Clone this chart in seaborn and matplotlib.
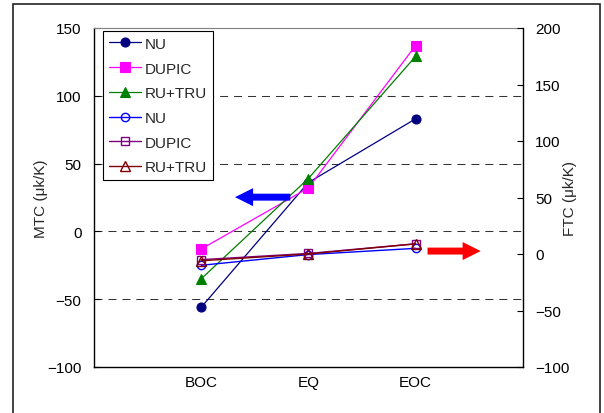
import numpy as np
import matplotlib
matplotlib.use("Agg")
import matplotlib.pyplot as plt
from matplotlib.patches import Rectangle
import seaborn as sns

sns.set_theme(style="white")
plt.rcParams['font.family'] = ['Liberation Sans', 'DejaVu Sans']

# data
stages = ["BOC", "EQ", "EOC"]
mtc_nu = [-56, 36, 83]
mtc_dupic = [-13, 32, 137]
mtc_rutru = [-35, 39, 129]
ftc_nu = [-10, -0.5, 5]
ftc_dupic = [-5, 0.5, 9]
ftc_rutru = [-6, 0, 9]

xpos = np.arange(1, len(stages) + 1)
fs = 11

fig = plt.figure(figsize=(6.04, 4.14), dpi=100)
ax = fig.add_axes([94 / 604, 1 - 368 / 414, 428.7 / 604, 339 / 414])
ax2 = ax.twinx()

# dashed reference lines on the MTC axis
for yv in [100, 50, 0, -50]:
    ax.axhline(yv, color='#333333', lw=0.75, ls=(0, (7.7, 5.7)), zorder=0)

left_series = [
    (mtc_nu, 'NU', '#000080', 'o', 6.5),
    (mtc_dupic, 'DUPIC', '#FF00FF', 's', 6.5),
    (mtc_rutru, 'RU+TRU', '#008000', '^', 7.5),
]
right_series = [
    (ftc_nu, 'NU', '#0000FF', 'o', 6),
    (ftc_dupic, 'DUPIC', '#800080', 's', 6),
    (ftc_rutru, 'RU+TRU', '#800000', '^', 6.5),
]

for vals, name, col, mk, ms in left_series:
    sns.lineplot(x=xpos, y=vals, ax=ax, color=col, marker=mk, markersize=ms,
                 markeredgecolor=col, markeredgewidth=0.8, lw=0.9, label=name)
for vals, name, col, mk, ms in right_series:
    sns.lineplot(x=xpos, y=vals, ax=ax2, color=col, marker=mk, markersize=ms,
                 markerfacecolor='none', markeredgecolor=col,
                 markeredgewidth=1.0, lw=1.0, label=name)

h1, l1 = ax.get_legend_handles_labels()
h2, l2 = ax2.get_legend_handles_labels()
if ax.get_legend():
    ax.get_legend().remove()
if ax2.get_legend():
    ax2.get_legend().remove()
leg = ax2.legend(h1 + h2, l1 + l2, loc='upper left', bbox_to_anchor=(0.021, 0.992),
                 fontsize=fs, frameon=True, fancybox=False, edgecolor='black',
                 framealpha=1, handlelength=2.1, handletextpad=0.2,
                 labelspacing=0.7, borderpad=0.4, borderaxespad=0)
leg.get_frame().set_linewidth(0.8)

ax.set_xlim(0, len(stages) + 1)
ax.set_xticks(xpos)
ax.set_xticklabels(stages)
ax.set_ylim(-100, 150)
ax.set_yticks(np.arange(-100, 151, 50))
ax2.set_ylim(-100, 200)
ax2.set_yticks(np.arange(-100, 201, 50))

ax.tick_params(axis='both', direction='in', length=4.5, width=0.8,
               labelsize=fs, colors='black', pad=9)
ax.tick_params(axis='x', pad=6)
ax2.tick_params(axis='y', direction='in', length=4.5, width=0.8,
                labelsize=fs, colors='black', pad=9)

for s in ['left', 'bottom']:
    ax.spines[s].set_color('black')
    ax.spines[s].set_linewidth(1.0)
ax.spines['right'].set_visible(False)
ax.spines['top'].set_color('#808080')
ax.spines['top'].set_linewidth(0.8)
for s in ['left', 'bottom', 'top']:
    ax2.spines[s].set_visible(False)
ax2.spines['right'].set_color('black')
ax2.spines['right'].set_linewidth(1.0)

ax.set_ylabel('MTC (μk/K)', fontsize=fs)
ax.yaxis.set_label_coords(-0.107, 0.5)
ax2.set_ylabel('FTC (μk/K)', fontsize=fs)
ax2.yaxis.set_label_coords(1.093, 0.5)
ax.set_xlabel('')

# direction arrows
arrow_style = 'simple,head_width=13,head_length=13,tail_width=5'
ax2.annotate('', xy=(0.329, 0.501), xytext=(0.458, 0.501),
             xycoords='axes fraction', textcoords='axes fraction',
             arrowprops=dict(arrowstyle=arrow_style, mutation_scale=1,
                             color='#0000FF', lw=0, shrinkA=0, shrinkB=0))
ax2.annotate('', xy=(0.902, 0.342), xytext=(0.778, 0.342),
             xycoords='axes fraction', textcoords='axes fraction',
             arrowprops=dict(arrowstyle=arrow_style, mutation_scale=1,
                             color='#FF0000', lw=0, shrinkA=0, shrinkB=0))

# outer frame around the figure
fig.patches.append(Rectangle((13 / 604, -0.02), 587 / 604, 1.02 - 5 / 414,
                             transform=fig.transFigure, fill=False,
                             edgecolor='#222222', lw=1.2))

fig.savefig('out.png', dpi=100)
